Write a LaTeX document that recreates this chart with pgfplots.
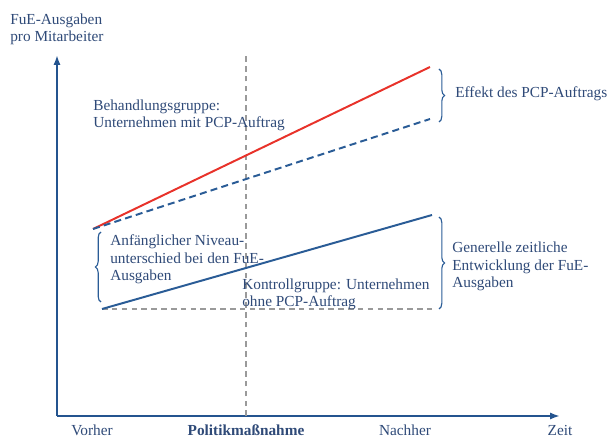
\documentclass[border=0pt]{standalone}
\usepackage{pgfplots}
\pgfplotsset{compat=1.18}
\usepackage{fontspec}
\setmainfont{Liberation Serif}
\usetikzlibrary{arrows.meta,decorations.pathreplacing}
\definecolor{txtblue}{HTML}{2F4A78}
\definecolor{axblue}{HTML}{24548F}
\definecolor{lnblue}{HTML}{2A5C96}
\definecolor{lnred}{HTML}{E8322A}
\definecolor{dgray}{HTML}{9A9A9A}
\tikzset{lbl/.style={text=txtblue, font=\fontsize{10.9}{12.8}\selectfont, inner sep=0pt}}
\begin{document}
\begin{tikzpicture}
\begin{axis}[
  scale only axis,
  width=12.575cm, height=9.025cm,
  xmin=57, xmax=560, ymin=0, ymax=361,
  axis lines=left,
  axis line style={axblue, line width=1.5pt, -{Latex[length=7pt,width=5pt]}},
  xtick=\empty, ytick=\empty,
  clip=false,
]
% vertical policy line
\addplot[dgray, line width=1pt, dash pattern=on 4pt off 3pt] coordinates {(246,0) (246,363)};
% gray dashed horizontal
\addplot[dgray, line width=1pt, dash pattern=on 4pt off 3pt] coordinates {(102,107) (435,107)};
% treatment group
\addplot[lnred, line width=1.4pt] coordinates {(93,187) (430,349)};
% counterfactual
\addplot[lnblue, line width=1.4pt, dash pattern=on 5pt off 3pt] coordinates {(93,187) (430,297)};
% control group
\addplot[lnblue, line width=1.4pt] coordinates {(102,107) (432,201)};
% braces
\draw[lnblue, line width=0.8pt, decorate, decoration={brace, amplitude=4pt}] (axis cs:101,114) -- (axis cs:101,184);
\draw[lnblue, line width=0.8pt, decorate, decoration={brace, amplitude=4pt}] (axis cs:439,347) -- (axis cs:439,294);
\draw[lnblue, line width=0.8pt, decorate, decoration={brace, amplitude=4pt}] (axis cs:439,199) -- (axis cs:439,107);
% texts (base = baseline of last line)
\node[lbl, anchor=base west, align=left] at (axis cs:10,374) {FuE-Ausgaben\\pro Mitarbeiter};
\node[lbl, anchor=base west, align=left] at (axis cs:93,288) {Behandlungsgruppe:\\Unternehmen mit PCP-Auftrag};
\node[lbl, anchor=base west, align=left] at (axis cs:110,135) {Anfänglicher Niveau-\\unterschied bei den FuE-\\Ausgaben};
\node[lbl, anchor=base west, align=left] at (axis cs:242,109) {Kontrollgruppe: Unternehmen\\ohne PCP-Auftrag};
\node[lbl, anchor=base west, align=left] at (axis cs:455,318) {Effekt des PCP-Auftrags};
\node[lbl, anchor=base west, align=left] at (axis cs:452,128) {Generelle zeitliche\\Entwicklung der FuE-\\Ausgaben};
\node[lbl, anchor=base] at (axis cs:92,-20) {Vorher};
\node[lbl, anchor=base] at (axis cs:246,-20) {\bfseries Politikmaßnahme};
\node[lbl, anchor=base] at (axis cs:405,-20) {Nachher};
\node[lbl, anchor=base] at (axis cs:560,-20) {Zeit};
\coordinate (bl) at (axis cs:0,-25);
\coordinate (tr) at (axis cs:607,416);
\end{axis}
\pgfresetboundingbox
\path[use as bounding box] (bl) rectangle (tr);
\end{tikzpicture}
\end{document}
